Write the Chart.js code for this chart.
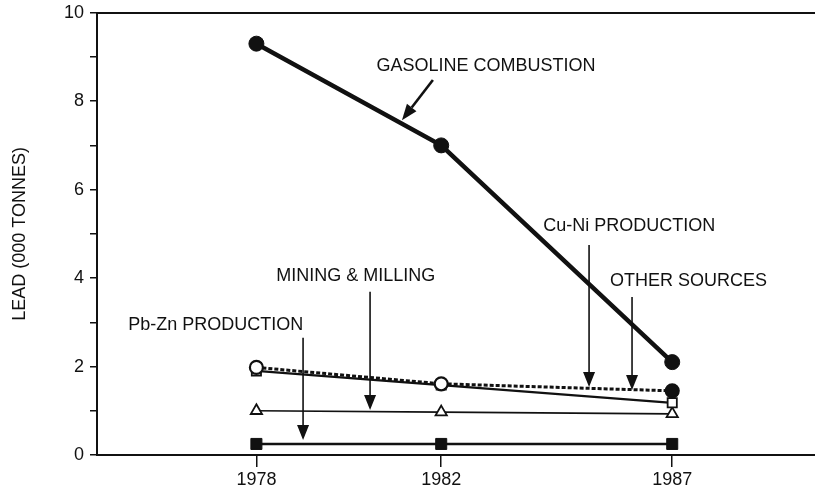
<!DOCTYPE html>
<html>
<head>
<meta charset="utf-8">
<script src="https://cdn.jsdelivr.net/npm/chart.js@4/dist/chart.umd.min.js"></script>
<style>
  html, body { margin: 0; padding: 0; background: #fff; overflow: hidden; }
  #wrap { width: 815px; height: 498px; position: relative; overflow: hidden; }
  canvas { display: block; }
</style>
</head>
<body>
<div id="wrap"><canvas id="c"></canvas></div>
<script>
// ---- data ----
const years = [1978, 1982, 1987];
const xTickValues = [1978, 1982, 1987];
const yTickValues = [0, 1, 2, 3, 4, 5, 6, 7, 8, 9, 10];
const gasolineCombustion = [9.3, 7.0, 2.1];
const cuNiProduction = [1.98, 1.61, 1.45];
const otherSources = [1.9, 1.58, 1.18];
const miningMilling = [1.0, 0.97, 0.93];
const pbZnProduction = [0.25, 0.25, 0.25];
const yAxisTitle = 'LEAD (000 TONNES)';

// annotation labels (text) and their anchor points in data units
const annotationTexts = ['GASOLINE COMBUSTION', 'Cu-Ni PRODUCTION', 'OTHER SOURCES', 'MINING & MILLING', 'Pb-Zn PRODUCTION'];
const annotationTextAt = [[1982.97, 8.80], [1986.07, 5.18], [1987.35, 3.93], [1980.15, 4.05], [1977.12, 2.94]];
const annotationArrowFrom = [[1981.82, 8.48], [1985.20, 4.75], [1986.13, 3.57], [1980.46, 3.69], [1979.01, 2.65]];
const annotationArrowTo = [[1981.15, 7.57], [1985.20, 1.54], [1986.13, 1.47], [1980.46, 1.02], [1979.01, 0.34]];

const FONT = '"Liberation Sans", Arial, Helvetica, sans-serif';
const INK = '#111';

function pts(vals) { return years.map((y, i) => ({ x: y, y: vals[i] })); }

function noPad(scale) {
  scale.paddingLeft = 0; scale.paddingRight = 0;
  scale.paddingTop = 0; scale.paddingBottom = 0;
}

const annotationPlugin = {
  id: 'arrowLabels',
  afterDatasetsDraw(chart) {
    const { ctx, scales: { x, y } } = chart;
    ctx.save();
    ctx.fillStyle = INK;
    ctx.strokeStyle = INK;
    ctx.font = '18px ' + FONT;
    ctx.textAlign = 'center';
    ctx.textBaseline = 'middle';
    annotationTexts.forEach((t, i) => {
      const tx = x.getPixelForValue(annotationTextAt[i][0]);
      const ty = y.getPixelForValue(annotationTextAt[i][1]);
      ctx.fillText(t, tx, ty);
      const x1 = x.getPixelForValue(annotationArrowFrom[i][0]);
      const y1 = y.getPixelForValue(annotationArrowFrom[i][1]);
      const x2 = x.getPixelForValue(annotationArrowTo[i][0]);
      const y2 = y.getPixelForValue(annotationArrowTo[i][1]);
      const ang = Math.atan2(y2 - y1, x2 - x1);
      const headLen = i === 0 ? 16 : 15;
      const headHalf = 6;
      const bx = x2 - headLen * Math.cos(ang);
      const by = y2 - headLen * Math.sin(ang);
      ctx.lineWidth = i === 0 ? 2.6 : 1.6;
      ctx.beginPath();
      ctx.moveTo(x1, y1);
      ctx.lineTo(bx, by);
      ctx.stroke();
      ctx.beginPath();
      ctx.moveTo(x2, y2);
      ctx.lineTo(bx + headHalf * Math.sin(ang), by - headHalf * Math.cos(ang));
      ctx.lineTo(bx - headHalf * Math.sin(ang), by + headHalf * Math.cos(ang));
      ctx.closePath();
      ctx.fill();
    });
    ctx.restore();
  }
};

new Chart(document.getElementById('c'), {
  type: 'line',
  data: {
    datasets: [
      {
        label: 'Gasoline combustion', data: pts(gasolineCombustion),
        borderColor: INK, backgroundColor: INK, borderWidth: 4.5,
        pointStyle: 'circle', pointRadius: 7.5, pointBackgroundColor: INK, pointBorderColor: INK, pointBorderWidth: 1
      },
      {
        label: 'Cu-Ni production', data: pts(cuNiProduction),
        borderColor: INK, borderWidth: 3, borderDash: [4, 2],
        pointStyle: 'circle', pointRadius: 6.5, pointBorderWidth: 2.2,
        pointBackgroundColor: ['#fff', '#fff', INK], pointBorderColor: INK
      },
      {
        label: 'Other sources', data: pts(otherSources),
        borderColor: INK, borderWidth: 2.2,
        pointStyle: 'rect', pointRadius: 6.5, pointBorderWidth: 1.8,
        pointBackgroundColor: '#fff', pointBorderColor: INK
      },
      {
        label: 'Mining & milling', data: pts(miningMilling),
        borderColor: INK, borderWidth: 1.6,
        pointStyle: 'triangle', pointRadius: 6.5, pointBorderWidth: 1.8,
        pointBackgroundColor: '#fff', pointBorderColor: INK
      },
      {
        label: 'Pb-Zn production', data: pts(pbZnProduction),
        borderColor: INK, borderWidth: 2.4,
        pointStyle: 'rect', pointRadius: 7.8, pointBorderWidth: 1,
        pointBackgroundColor: INK, pointBorderColor: INK
      }
    ]
  },
  options: {
    responsive: true,
    maintainAspectRatio: false,
    animation: false,
    devicePixelRatio: 1,
    layout: { padding: 0, autoPadding: false },
    plugins: { legend: { display: false }, tooltip: { enabled: false } },
    scales: {
      x: {
        type: 'linear', position: 'bottom',
        min: 1974.55, max: 1990.09,
        afterBuildTicks(scale) { scale.ticks = xTickValues.map(v => ({ value: v })); },
        afterFit(scale) { scale.height = 43; noPad(scale); },
        ticks: {
          autoSkip: false, maxRotation: 0, padding: 2,
          color: INK, font: { family: FONT, size: 18 },
          callback: v => String(v)
        },
        grid: { display: true, drawOnChartArea: false, drawTicks: true, tickLength: 12, color: INK, lineWidth: 1.5 },
        border: { display: true, color: INK, width: 2 }
      },
      xTop: {
        type: 'linear', position: 'top', min: 0, max: 1,
        afterFit(scale) { scale.height = 12.7; noPad(scale); },
        ticks: { display: false },
        grid: { display: false, drawTicks: false },
        border: { display: true, color: INK, width: 2 }
      },
      y: {
        type: 'linear', position: 'left',
        min: 0, max: 10,
        afterBuildTicks(scale) { scale.ticks = yTickValues.map(v => ({ value: v })); },
        afterFit(scale) { scale.width = 97; noPad(scale); },
        ticks: {
          autoSkip: false, padding: 6,
          color: INK, font: { family: FONT, size: 18 },
          callback: v => (v % 2 === 0 ? String(v) : '')
        },
        grid: { display: true, drawOnChartArea: false, drawTicks: true, tickLength: 7, color: INK, lineWidth: 1.5 },
        border: { display: true, color: INK, width: 2 },
        title: { display: true, text: yAxisTitle, color: INK, font: { family: FONT, size: 18 }, padding: { top: 9, bottom: 0 } }
      }
    }
  },
  plugins: [annotationPlugin]
});
</script>
</body>
</html>
